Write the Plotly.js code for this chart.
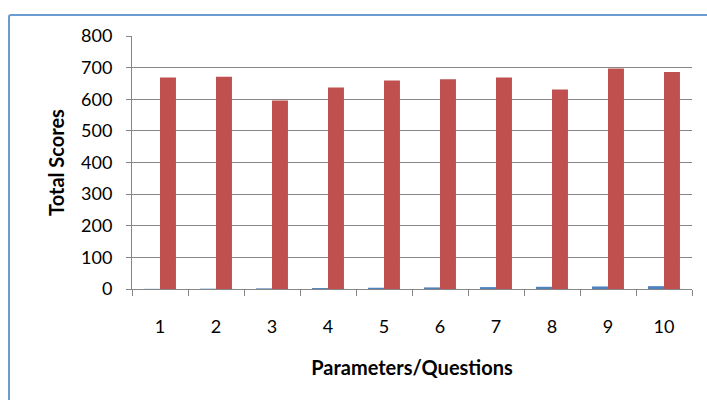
<!DOCTYPE html>
<html>
<head>
<meta charset="utf-8">
<script src="https://cdn.plot.ly/plotly-3.0.1.min.js"></script>
<style>
html,body{margin:0;padding:0;background:#fff;}
#wrap{position:relative;width:707px;height:400px;overflow:hidden;}
#frame{position:absolute;left:8px;top:14px;width:710px;height:392px;border:2px solid #6a9bd1;border-radius:3px;box-sizing:border-box;pointer-events:none;}
#chart{position:absolute;left:0;top:0;width:707px;height:400px;}
</style>
</head>
<body>
<div id="wrap">
<div id="chart"></div>
<div id="frame"></div>
</div>
<script>
var categories = ["1","2","3","4","5","6","7","8","9","10"];
var seriesBlue = [0.5,1,2,3,4,5,6,7,8,9];
var seriesRed = [669,671,596,637,659,663,669,631,697,686];
var yTicks = [0,100,200,300,400,500,600,700,800];

var traces = [
  {type:"bar", x:categories, y:seriesBlue, name:"Series1", marker:{color:"#4F81BD"}},
  {type:"bar", x:categories, y:seriesRed, name:"Series2", marker:{color:"#C0504D"}}
];

var layout = {
  width:707, height:400,
  margin:{l:132, r:15, t:36, b:111},
  paper_bgcolor:"#fff", plot_bgcolor:"#fff",
  showlegend:false,
  barmode:"group",
  bargap:0.43, bargroupgap:0,
  font:{family:"Lato, sans-serif", size:18, color:"#000"},
  xaxis:{
    type:"category",
    tickson:"boundaries",
    ticks:"outside", ticklen:6, tickcolor:"#868686", tickwidth:1,
    showline:true, linecolor:"#868686", linewidth:1,
    showgrid:false,
    ticklabelstandoff:21,
    tickfont:{family:"Lato, sans-serif", size:18},
    title:{text:"<b>Parameters/Questions</b>", font:{family:"Lato, sans-serif", size:20}, standoff:25}
  },
  yaxis:{
    range:[0,800],
    tickvals:yTicks,
    ticktext:yTicks.map(String),
    ticks:"outside", ticklen:5, tickcolor:"#868686",
    showline:true, linecolor:"#868686", linewidth:1,
    showgrid:true, gridcolor:"#868686", gridwidth:1,
    zeroline:false,
    ticklabelstandoff:10,
    tickfont:{family:"Lato, sans-serif", size:18},
    title:{text:"<b>Total Scores</b>", font:{family:"Lato, sans-serif", size:20}, standoff:11}
  }
};

Plotly.newPlot("chart", traces, layout, {displayModeBar:false, staticPlot:true});
</script>
</body>
</html>
